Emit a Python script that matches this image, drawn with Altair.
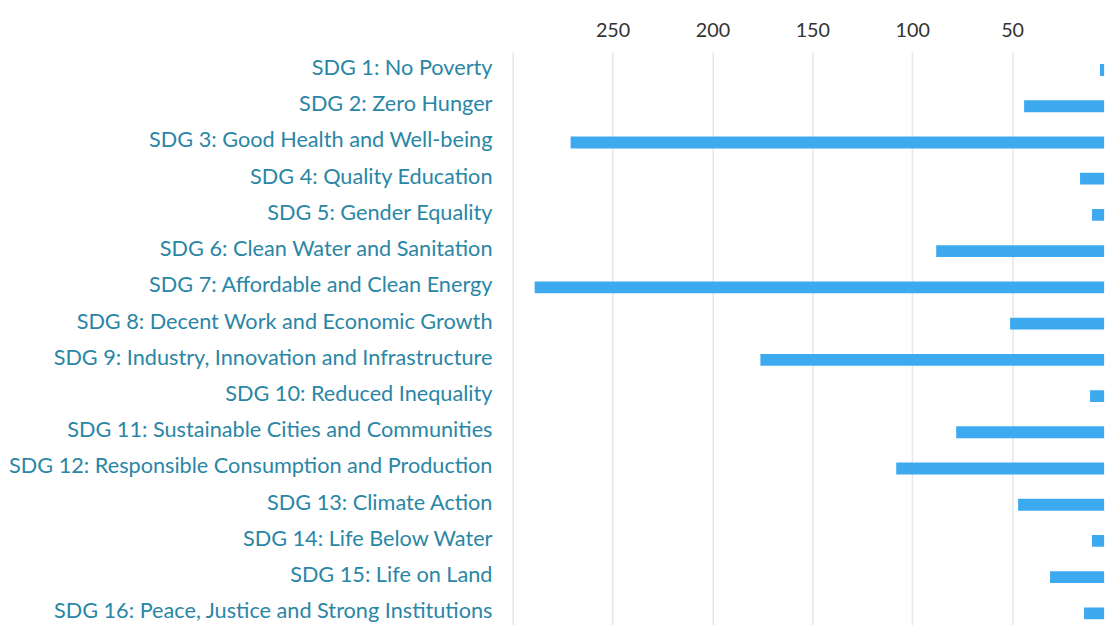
import altair as alt
import pandas as pd

goals = [
    "SDG 1: No Poverty",
    "SDG 2: Zero Hunger",
    "SDG 3: Good Health and Well-being",
    "SDG 4: Quality Education",
    "SDG 5: Gender Equality",
    "SDG 6: Clean Water and Sanitation",
    "SDG 7: Affordable and Clean Energy",
    "SDG 8: Decent Work and Economic Growth",
    "SDG 9: Industry, Innovation and Infrastructure",
    "SDG 10: Reduced Inequality",
    "SDG 11: Sustainable Cities and Communities",
    "SDG 12: Responsible Consumption and Production",
    "SDG 13: Climate Action",
    "SDG 14: Life Below Water",
    "SDG 15: Life on Land",
    "SDG 16: Peace, Justice and Strong Institutions",
]
counts = [6, 44, 271, 16, 10, 88, 289, 51, 176, 11, 78, 108, 47, 10, 31, 14]
tick_values = [50, 100, 150, 200, 250, 300]

df = pd.DataFrame({"goal": goals, "count": counts})

chart = alt.Chart(df).mark_bar(size=12, color="#3daaf0", clip=True).encode(
    x=alt.X(
        "count:Q",
        scale=alt.Scale(domain=[0, 300], range=[608, 0], nice=False),
        axis=alt.Axis(
            orient="top",
            title=None,
            values=tick_values,
            labelExpr="datum.value == 300 ? '' : datum.label",
            domain=False,
            ticks=False,
            labelFont="Lato",
            labelFontSize=20,
            labelColor="#333333",
            labelPadding=12,
            gridColor="#e6e6e6",
            gridWidth=1.5,
            minExtent=40,
            maxExtent=40,
        ),
    ),
    y=alt.Y(
        "goal:N",
        sort=goals,
        title=None,
        axis=alt.Axis(
            domain=False,
            ticks=False,
            grid=False,
            labelFont="Lato",
            labelFontSize=22,
            labelColor="#2a86a5",
            labelPadding=21,
            labelOffset=-2,
            labelLimit=600,
            minExtent=512,
            maxExtent=512,
        ),
    ),
).properties(
    width=600,
    height=588,
    padding=0,
).configure_view(stroke=None)

chart.save("out.html", embed_options={"renderer": "svg", "actions": False})
